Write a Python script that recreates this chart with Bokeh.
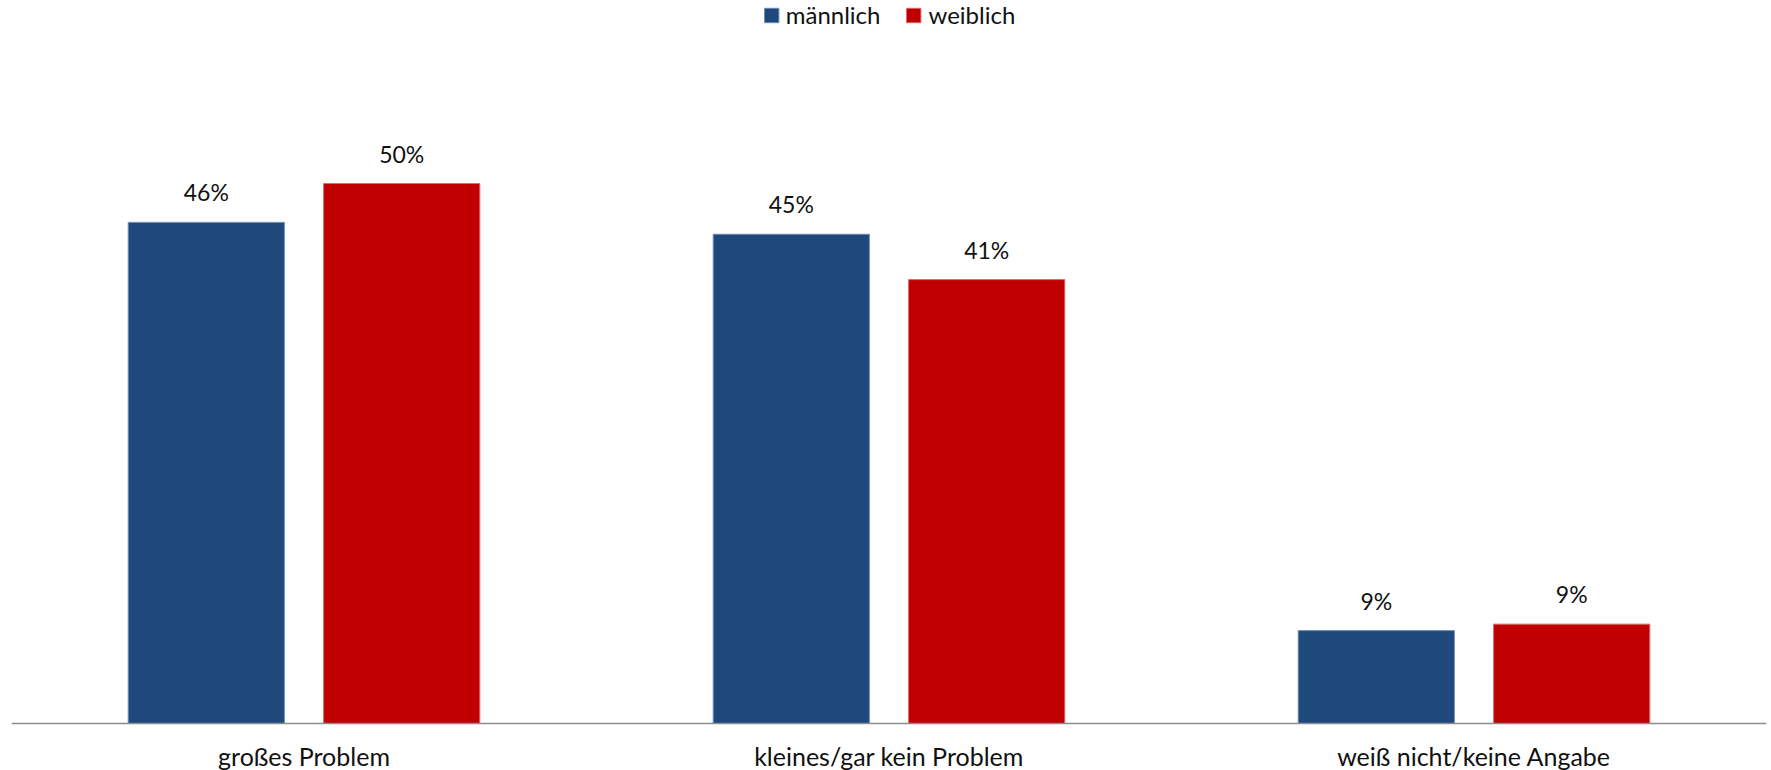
from bokeh.plotting import figure
from bokeh.models import FactorRange, Range1d, Legend, LegendItem, ColumnDataSource, Span
from bokeh.transform import dodge
from bokeh.core.properties import value
from bokeh.embed import file_html
from bokeh.resources import INLINE

categories = ["großes Problem", "kleines/gar kein Problem", "weiß nicht/keine Angabe"]
maennlich = [46.4, 45.3, 8.6]
weiblich = [50.0, 41.1, 9.2]
series_names = ["männlich", "weiblich"]

BLUE = "#1F497D"
RED = "#C00000"
FONT = "Lato"

src = ColumnDataSource(dict(
    cat=categories,
    m=maennlich,
    w=weiblich,
    ml=[f"{v:.0f}%" for v in maennlich],
    wl=[f"{v:.0f}%" for v in weiblich],
))

W, H = 1771, 770
AXIS_Y = 723          # pixel row of the baseline
PX_PER_PCT = 10.8

p = figure(
    x_range=FactorRange(factors=categories),
    y_range=Range1d(-(H - AXIS_Y) / PX_PER_PCT, AXIS_Y / PX_PER_PCT),
    width=W, height=H,
    output_backend="svg", toolbar_location=None,
    min_border_left=11, min_border_right=5, min_border_top=0, min_border_bottom=0,
)

bw = 0.267
off = 0.167
r_m = p.vbar(x=dodge("cat", -off, range=p.x_range), top="m", width=bw, source=src,
             fill_color=BLUE, line_color="#6F8DB5", line_width=1)
r_w = p.vbar(x=dodge("cat", off, range=p.x_range), top="w", width=bw, source=src,
             fill_color=RED, line_color="#D96B6B", line_width=1)

for col, lab, o in (("m", "ml", -off), ("w", "wl", off)):
    p.text(x=dodge("cat", o, range=p.x_range), y=col, text=lab, source=src,
           text_align="center", text_baseline="alphabetic", y_offset=-30,
           text_font=value(FONT), text_font_size="23px", text_color="#111111")

# baseline (category axis line)
p.add_layout(Span(location=0, dimension="width", line_color="#8C8C8C", line_width=1.5))

# category labels below the baseline
p.text(x="cat", y=0, text="cat", source=src, text_align="center",
       text_baseline="alphabetic", y_offset=32,
       text_font=value(FONT), text_font_size="25px", text_color="#111111")

legend = Legend(items=[LegendItem(label=series_names[0], renderers=[r_m]),
                       LegendItem(label=series_names[1], renderers=[r_w])],
                orientation="horizontal", location="top_center",
                glyph_width=18, glyph_height=18, label_standoff=6, spacing=24,
                label_text_font=FONT, label_text_font_size="24px", label_text_color="#111111",
                border_line_color=None, background_fill_alpha=0, margin=0, padding=6)
p.add_layout(legend)

p.xaxis.visible = False
p.yaxis.visible = False
p.xgrid.grid_line_color = None
p.ygrid.grid_line_color = None
p.outline_line_color = None

open("out.html", "w").write(file_html(p, INLINE))
